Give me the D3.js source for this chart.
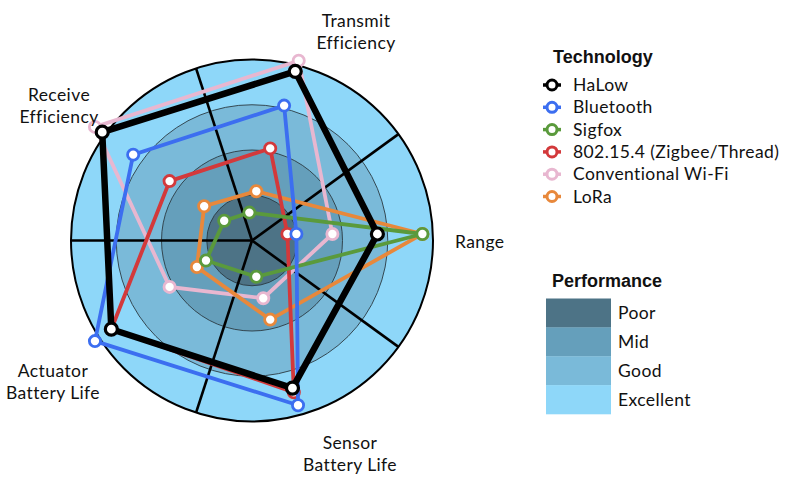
<!DOCTYPE html>
<html>
<head>
<meta charset="utf-8">
<script src="https://cdn.jsdelivr.net/npm/d3@7"></script>
<style>
  html, body { margin: 0; padding: 0; background: #fff; }
  svg { display: block; font-family: Lato, "Open Sans", sans-serif; }
</style>
</head>
<body>
<svg id="chart" width="800" height="485"></svg>
<script>
// ---- data ----
const axes = ["Range", "Transmit Efficiency", "Receive Efficiency", "Actuator Battery Life", "Sensor Battery Life"];
const axisLabels = [["Range"], ["Transmit", "Efficiency"], ["Receive", "Efficiency"], ["Actuator", "Battery Life"], ["Sensor", "Battery Life"]];
const technologies = ["HaLow", "Bluetooth", "Sigfox", "802.15.4 (Zigbee/Thread)", "Conventional Wi-Fi", "LoRa"];
const halow      = [3.0, 3.8, 3.85, 3.6, 3.6];
const bluetooth  = [1.2, 3.0, 3.0, 4.05, 4.0];
const sigfox     = [4.0, 0.5, 0.5, 1.0, 1.0];
const zigbee     = [1.0, 2.0, 2.0, 3.6, 3.7];
const wifi       = [2.0, 4.05, 4.05, 2.0, 1.5];
const lora       = [4.0, 1.0, 1.05, 1.25, 2.0];
const performanceLevels = ["Poor", "Mid", "Good", "Excellent"];
const levelValues = [1, 2, 3, 4];

// ---- styling ----
const seriesColors = {
  "HaLow": "#000000",
  "Bluetooth": "#3c6ef0",
  "Sigfox": "#5a9a3c",
  "802.15.4 (Zigbee/Thread)": "#d3393b",
  "Conventional Wi-Fi": "#e8b7d0",
  "LoRa": "#e8883b"
};
const levelColors = ["#4d7386", "#659fbb", "#7abad9", "#8ed7f9"];
const seriesData = {
  "HaLow": halow, "Bluetooth": bluetooth, "Sigfox": sigfox,
  "802.15.4 (Zigbee/Thread)": zigbee, "Conventional Wi-Fi": wifi, "LoRa": lora
};
const drawOrder = ["Conventional Wi-Fi", "LoRa", "802.15.4 (Zigbee/Thread)", "Sigfox", "Bluetooth", "HaLow"];

const svg = d3.select("#chart");
const bodyFont = 17.5, bodySpacing = 0.4;
const titleFont = "'Liberation Sans', Arial, sans-serif";

// background disc
const bg = { x: 252, y: 240.5 };
const bgR = d3.scaleLinear().domain([0, 4]).range([0, 181]);
// data polygons
const dc = { x: 242.4, y: 234 };
const r = d3.scaleLinear().domain([0, 4]).range([0, 180]);
const angle = d3.scaleLinear().domain([0, axes.length]).range([0, 2 * Math.PI]);

const gBg = svg.append("g");
levelValues.slice().reverse().forEach((lv) => {
  gBg.append("circle")
    .attr("cx", bg.x).attr("cy", bg.y).attr("r", bgR(lv))
    .attr("fill", levelColors[lv - 1])
    .attr("stroke", lv === 4 ? "#000" : "#2b3a42")
    .attr("stroke-width", lv === 4 ? 2 : 0.9);
});
// sector divider lines
d3.range(axes.length).forEach(i => {
  const a = angle(i + 0.5);
  gBg.append("line")
    .attr("x1", bg.x).attr("y1", bg.y)
    .attr("x2", bg.x + bgR(4) * Math.cos(a))
    .attr("y2", bg.y - bgR(4) * Math.sin(a))
    .attr("stroke", "#000").attr("stroke-width", 2.6);
});

// series
const pt = (v, i) => [dc.x + r(v) * Math.cos(angle(i)), dc.y - r(v) * Math.sin(angle(i))];
const line = d3.line().curve(d3.curveLinearClosed);
const gS = svg.append("g");
drawOrder.forEach(name => {
  const vals = seriesData[name];
  const pts = vals.map((v, i) => pt(v, i));
  const isH = name === "HaLow";
  const g = gS.append("g");
  g.append("path")
    .attr("d", line(pts))
    .attr("fill", "none")
    .attr("stroke", seriesColors[name])
    .attr("stroke-width", isH ? 6.5 : 3.8)
    .attr("stroke-linejoin", "miter");
  g.selectAll("circle").data(pts).join("circle")
    .attr("cx", d => d[0]).attr("cy", d => d[1])
    .attr("r", isH ? 6 : 5.6)
    .attr("fill", "#fff")
    .attr("stroke", seriesColors[name])
    .attr("stroke-width", isH ? 3.2 : 2.8);
});

// axis labels
const labelPos = [
  { x: 455, y: 248, anchor: "start" },
  { x: 356, y: 27, anchor: "middle" },
  { x: 59, y: 101, anchor: "middle" },
  { x: 53, y: 377, anchor: "middle" },
  { x: 350, y: 449, anchor: "middle" }
];
axisLabels.forEach((lines, i) => {
  const t = svg.append("text")
    .attr("x", labelPos[i].x).attr("y", labelPos[i].y)
    .attr("text-anchor", labelPos[i].anchor)
    .attr("font-size", bodyFont).attr("letter-spacing", bodySpacing).attr("fill", "#111");
  lines.forEach((l, j) => {
    t.append("tspan").attr("x", labelPos[i].x).attr("dy", j === 0 ? 0 : 21.5).text(l);
  });
});

// Technology legend
const lg = svg.append("g");
lg.append("text").attr("x", 553).attr("y", 63).attr("font-size", 18).attr("font-weight", "bold")
  .attr("font-family", titleFont).attr("fill", "#111").text("Technology");
technologies.forEach((name, i) => {
  const y = 85 + i * 22.3;
  const c = seriesColors[name];
  lg.append("line").attr("x1", 543).attr("x2", 561).attr("y1", y).attr("y2", y)
    .attr("stroke", c).attr("stroke-width", 3.5);
  lg.append("circle").attr("cx", 552).attr("cy", y).attr("r", 5)
    .attr("fill", "#fff").attr("stroke", c).attr("stroke-width", 3);
  lg.append("text").attr("x", 573).attr("y", y + 6).attr("font-size", bodyFont)
    .attr("letter-spacing", bodySpacing).attr("fill", "#111").text(name);
});

// Performance legend
const pg = svg.append("g");
pg.append("text").attr("x", 552).attr("y", 287).attr("font-size", 18).attr("font-weight", "bold")
  .attr("font-family", titleFont).attr("fill", "#111").text("Performance");
const sw = d3.scaleBand().domain(performanceLevels).range([298.5, 414]);
performanceLevels.forEach((name, i) => {
  pg.append("rect").attr("x", 546).attr("y", sw(name)).attr("width", 65).attr("height", sw.bandwidth() + 0.3)
    .attr("fill", levelColors[i]);
  pg.append("text").attr("x", 618).attr("y", sw(name) + sw.bandwidth() / 2 + 6)
    .attr("font-size", bodyFont).attr("letter-spacing", bodySpacing).attr("fill", "#111").text(name);
});
</script>
</body>
</html>
